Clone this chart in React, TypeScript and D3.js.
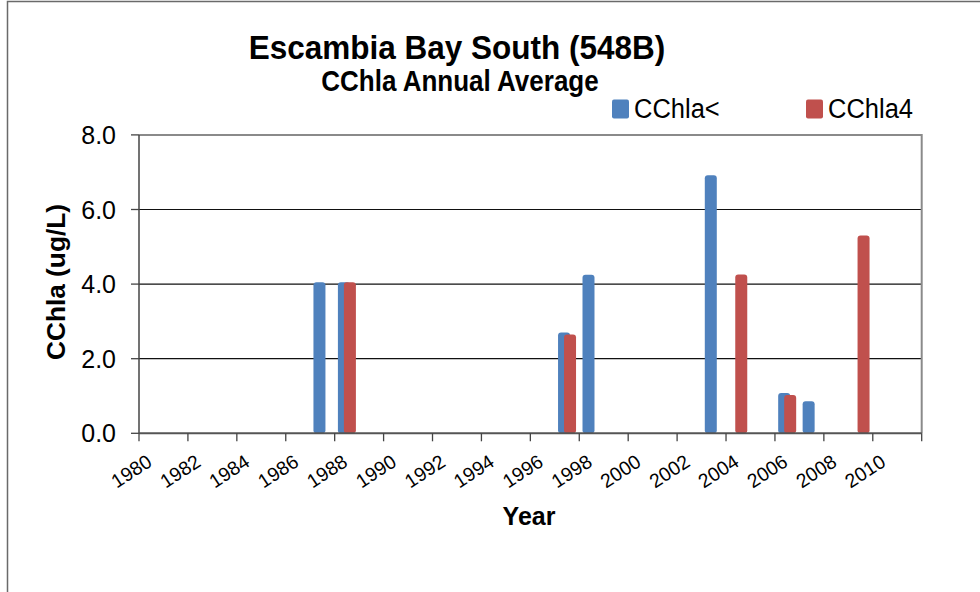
import * as d3 from "d3";
import { useEffect, useRef } from "react";

const years = [
  1980, 1981, 1982, 1983, 1984, 1985, 1986, 1987, 1988, 1989, 1990, 1991, 1992, 1993, 1994, 1995,
  1996, 1997, 1998, 1999, 2000, 2001, 2002, 2003, 2004, 2005, 2006, 2007, 2008, 2009, 2010, 2011,
];
const xTickLabels = [1980, 1982, 1984, 1986, 1988, 1990, 1992, 1994, 1996, 1998, 2000, 2002, 2004, 2006, 2008, 2010];
const yTicks = [0, 2, 4, 6, 8];

const blueYears = [1987, 1988, 1997, 1998, 2003, 2006, 2007];
const blueValues = [4.05, 4.05, 2.7, 4.25, 6.92, 1.08, 0.86];
const redYears = [1988, 1997, 2004, 2006, 2009];
const redValues = [4.05, 2.65, 4.26, 1.03, 5.3];

const BLUE = "#4f81bd";
const RED = "#c0504d";
const FONT = "'Liberation Sans', Arial, sans-serif";

export default function App() {
  const ref = useRef<SVGSVGElement | null>(null);

  useEffect(() => {
    if (!ref.current) return;
    const svg = d3.select(ref.current);
    svg.selectAll("*").remove();

    const left = 139;
    const right = 921.7;
    const top = 134.9;
    const bottom = 433.3;

    const x = d3.scaleBand<number>().domain(years).range([left, right]).padding(0);
    const y = d3.scaleLinear().domain([0, 8]).range([bottom, top]);
    const barW = 12;
    const offset = 3;

    // outer chart frame
    svg.append("rect").attr("x", 7.5).attr("y", 1.5).attr("width", 1000).attr("height", 700)
      .attr("fill", "#fff").attr("stroke", "#6a6a6a").attr("stroke-width", 1.5);

    // titles
    svg.append("text").attr("transform", "translate(457,59) scale(1,1.08)")
      .attr("text-anchor", "middle").style("font-family", FONT).style("font-size", "31.5px")
      .style("font-weight", "bold").text("Escambia Bay South (548B)");
    svg.append("text").attr("transform", "translate(460,91) scale(1,1.1)")
      .attr("text-anchor", "middle").style("font-family", FONT).style("font-size", "26px")
      .style("font-weight", "bold").text("CChla Annual Average");

    // legend
    const legend = [
      { name: "CChla<", color: BLUE, x: 612 },
      { name: "CChla4", color: RED, x: 806 },
    ];
    legend.forEach((l) => {
      svg.append("rect").attr("x", l.x).attr("y", 99.5).attr("width", 17).attr("height", 19)
        .attr("rx", 2).attr("fill", l.color);
      svg.append("text").attr("transform", `translate(${l.x + 22},118) scale(1,1.05)`)
        .style("font-family", FONT).style("font-size", "25.5px").text(l.name);
    });

    // gridlines
    svg.append("g").selectAll("line").data(yTicks.filter((t) => t > 0 && t < 8)).join("line")
      .attr("x1", left).attr("x2", right).attr("y1", (d) => y(d)).attr("y2", (d) => y(d))
      .attr("stroke", "#111").attr("stroke-width", 1.2);

    // plot border (top, right)
    svg.append("path").attr("d", `M${left},${y(8)}H${right}V${bottom}`)
      .attr("fill", "none").attr("stroke", "#8a8a8a").attr("stroke-width", 2);

    // bars
    const blue = blueYears.map((yr, i) => ({ yr, v: blueValues[i] }));
    const red = redYears.map((yr, i) => ({ yr, v: redValues[i] }));
    const cx = (yr: number) => (x(yr) ?? 0) + x.bandwidth() / 2;

    svg.append("g").selectAll("rect").data(blue).join("rect")
      .attr("x", (d) => cx(d.yr) - offset - barW / 2).attr("y", (d) => y(d.v))
      .attr("width", barW).attr("height", (d) => bottom - y(d.v)).attr("rx", 3)
      .attr("fill", BLUE);
    svg.append("g").selectAll("rect").data(red).join("rect")
      .attr("x", (d) => cx(d.yr) + offset - barW / 2).attr("y", (d) => y(d.v))
      .attr("width", barW).attr("height", (d) => bottom - y(d.v)).attr("rx", 3)
      .attr("fill", RED);

    // y axis
    svg.append("line").attr("x1", left).attr("x2", left).attr("y1", y(8)).attr("y2", bottom)
      .attr("stroke", "#444").attr("stroke-width", 1.5);
    svg.append("g").selectAll("line").data(yTicks).join("line")
      .attr("x1", left - 8).attr("x2", left).attr("y1", (d) => y(d)).attr("y2", (d) => y(d))
      .attr("stroke", "#444").attr("stroke-width", 1.3);
    svg.append("g").selectAll("text").data(yTicks).join("text")
      .attr("x", 116).attr("y", (d) => y(d)).attr("dy", "0.36em").attr("text-anchor", "end")
      .style("font-family", FONT).style("font-size", "25px").text((d) => d3.format(".1f")(d));
    svg.append("text").attr("transform", "translate(65,282) rotate(-90) scale(1.05,1)")
      .attr("text-anchor", "middle").style("font-family", FONT).style("font-size", "25px")
      .style("font-weight", "bold").text("CChla (ug/L)");

    // x axis
    svg.append("line").attr("x1", left).attr("x2", right).attr("y1", bottom).attr("y2", bottom)
      .attr("stroke", "#555").attr("stroke-width", 2);
    const tickYears = years.filter((_, i) => i % 2 === 0).concat([2012]);
    svg.append("g").selectAll("line").data(tickYears).join("line")
      .attr("x1", (d) => (d === 2012 ? right : x(d) ?? 0)).attr("x2", (d) => (d === 2012 ? right : x(d) ?? 0))
      .attr("y1", bottom).attr("y2", bottom + 8).attr("stroke", "#444").attr("stroke-width", 1.3);
    svg.append("g").selectAll("text").data(xTickLabels).join("text")
      .attr("transform", (d) => `translate(${cx(d) + 2},465) rotate(-33)`)
      .attr("text-anchor", "end")
      .style("font-family", FONT).style("font-size", "19.5px").text((d) => String(d));
    svg.append("text").attr("transform", "translate(529,525) scale(1,1.05)")
      .attr("text-anchor", "middle").style("font-family", FONT).style("font-size", "25px")
      .style("font-weight", "bold").text("Year");
  }, []);

  return (
    <svg
      ref={ref}
      width={980}
      height={592}
      style={{ position: "absolute", left: 0, top: 0, background: "#fff" }}
      role="img"
      aria-label="CChla annual average"
    />
  );
}
